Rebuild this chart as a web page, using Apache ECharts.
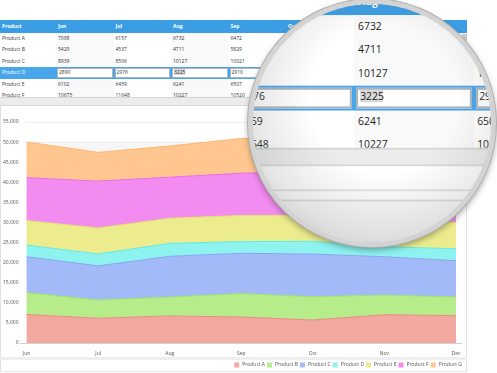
<!DOCTYPE html>
<html><head><meta charset="utf-8">
<script src="https://cdn.jsdelivr.net/npm/echarts@6/dist/echarts.min.js"></script>
<style>
html,body{margin:0;padding:0;background:#fff;overflow:hidden;width:497px;height:373px;font-family:"Open Sans",sans-serif;}
.abs{position:absolute;}
#chart{position:absolute;left:0;top:0;width:497px;height:373px;z-index:1;}
#tbl{position:absolute;left:0;top:0;width:497px;height:106px;z-index:2;overflow:hidden;}
#mag{position:absolute;left:248px;top:-1px;width:248px;height:248px;box-sizing:border-box;border-radius:50%;border:5px solid #d3d3d3;overflow:hidden;z-index:3;background:#fff;
 box-shadow:0 0 0 1px #b0b0b0,0 3px 6px rgba(0,0,0,0.35),inset 0 0 0 1px #9a9a9a;}
#magInner{position:absolute;left:-253px;top:-56.7px;width:497px;height:140px;transform-origin:0 0;transform:scale(2.07);}
#shade{position:absolute;left:0;top:0;width:100%;height:100%;border-radius:50%;
 background:radial-gradient(circle at 55% 40%,rgba(255,255,255,0) 0%,rgba(255,255,255,0) 38%,rgba(110,110,110,0.18) 70%,rgba(80,80,80,0.42) 100%);}
.cell{position:absolute;font-size:5px;color:#333;white-space:nowrap;}
#magInner .cell{color:#222;}
</style></head>
<body>
<div class="abs" style="left:0;top:105px;width:467px;height:253px;box-sizing:border-box;border-left:1px solid #e2e2e2;border-right:1px solid #e2e2e2;background:#fff;"></div>
<div class="abs" style="left:0;top:357px;width:467px;height:3px;background:#eeeeee;"></div>
<div class="abs" style="left:0;top:360px;width:467px;height:12px;box-sizing:border-box;border-left:1px solid #e2e2e2;border-right:1px solid #e2e2e2;border-bottom:1px solid #e6e6e6;"></div>
<div id="chart"></div>
<div id="tbl"></div>
<div id="mag"><div id="magInner"></div><div id="shade"></div></div>
<script>
// ---- data ----
const months = ['Jun','Jul','Aug','Sep','Oct','Nov','Dec'];
const products = ['Product A','Product B','Product C','Product D','Product E','Product F','Product G'];
const productA = [7098, 6157, 6732, 6472, 5720, 7040, 6800];
const productB = [5429, 4537, 4711, 5829, 5780, 4900, 4640];
const productC = [8939, 8506, 10127, 10021, 10640, 9530, 9030];
const productD = [2890, 2976, 3225, 2910, 3160, 2490, 2990];
const productE = [6102, 6459, 6241, 6507, 6460, 6140, 6560];
const productF = [10675, 11648, 10227, 10520, 10800, 11200, 10900];
const productG = [8900, 7150, 7750, 8650, 8400, 8100, 8600];
const yTickMax = 55000, yTickStep = 5000;
const seriesValues = [productA, productB, productC, productD, productE, productF, productG];
const fillColors = ['#f2a89f','#b6ec8a','#a2baf7','#8ef2ee','#ecec8e','#f28cf0','#ffc78f'];
const lineColors = ['#ec8a80','#9fe46c','#88a4f1','#62e9e4','#e3e366','#eb68e8','#ffb470'];

// ---- table (HTML grid) ----
function buildTable(root, withChartTop){
  const colX = [0]; for(let i=0;i<8;i++) colX.push(56 + 57.5*i);
  const add = (css, txt, cls) => { const d=document.createElement('div'); d.className = cls||'abs'; d.style.cssText = css; if(txt!==undefined) d.textContent = txt; root.appendChild(d); return d; };
  add('left:0;top:0;width:497px;height:20px;background:#fff;');
  add('left:0;top:20px;width:467px;height:13px;background:#3b9de3;');
  add('left:2px;top:20px;line-height:13px;color:#fff;font-weight:bold;','Product','cell');
  months.forEach((m,i)=>add('left:'+(colX[i+1]+2)+'px;top:20px;line-height:13px;color:#fff;font-weight:bold;',m,'cell'));
  const body = add('left:0;top:33px;width:467px;height:64px;overflow:hidden;background:#fff;');
  const addB = (css, txt, cls) => { const d=document.createElement('div'); d.className = cls||'abs'; d.style.cssText = css; if(txt!==undefined) d.textContent = txt; body.appendChild(d); return d; };
  for(let c=1;c<=7;c+=2) addB('left:'+colX[c]+'px;top:0;width:57.5px;height:80px;background:#f9f9f9;');
  const rh = 11.4;
  products.forEach((p,r)=>{
    const top = r*rh;
    if(r===3){
      addB('left:0;top:'+top+'px;width:462px;height:'+rh+'px;background:#4aa6ea;');
      addB('left:2px;top:'+top+'px;line-height:'+rh+'px;color:#fff;',p,'cell');
      seriesValues[r].forEach((v,i)=>{
        addB('left:'+(colX[i+1]+1)+'px;top:'+(top+1)+'px;width:55.5px;height:'+(rh-2)+'px;box-sizing:border-box;border:0.5px solid #aab6bf;background:#fff;');
        const t = addB('left:'+(colX[i+1]+3)+'px;top:'+top+'px;line-height:'+rh+'px;','','cell');
        const s = document.createElement('span'); s.textContent = v; if(i===2){s.style.background='#d9d9d9';} t.appendChild(s);
      });
    } else {
      addB('left:2px;top:'+top+'px;line-height:'+rh+'px;',p,'cell');
      seriesValues[r].forEach((v,i)=>addB('left:'+(colX[i+1]+2)+'px;top:'+top+'px;line-height:'+rh+'px;',String(v),'cell'));
    }
  });
  add('left:462px;top:33px;width:5px;height:64px;background:#f1f1f1;border-left:0.5px solid #dcdcdc;box-sizing:border-box;');
  add('left:462.5px;top:34px;width:4px;height:22px;background:#c9c9c9;');
  add('left:0;top:97px;width:467px;height:0.6px;background:#d6d6d6;');
  add('left:0;top:98px;width:467px;height:7px;background:#ececec;');
  add('left:0;top:105px;width:467px;height:0.6px;background:#d9d9d9;');
  if(withChartTop){
    add('left:0;top:105.6px;width:467px;height:40px;background:#fff;');
    add('left:0;top:116.8px;width:467px;height:0.5px;background:#e4e4e4;');
    add('left:0;top:122px;width:467px;height:0.5px;background:#dcdcdc;');
    add('left:0;top:122.5px;width:467px;height:20px;background:#fafafa;');
  }
}
buildTable(document.getElementById('tbl'), false);
buildTable(document.getElementById('magInner'), true);

// ---- chart ----
const chart = echarts.init(document.getElementById('chart'), null, {renderer:'canvas'});
chart.setOption({
  backgroundColor:'transparent',
  animation:false,
  textStyle:{fontFamily:'"Open Sans", sans-serif'},
  grid:{left:25,right:41,top:122,bottom:30},
  legend:{
    data:products, right:35, top:362.5, padding:0, icon:'rect', itemWidth:5, itemHeight:5, itemGap:2,
    textStyle:{fontSize:5,color:'#555',padding:[0,0,0,-2]}
  },
  xAxis:{
    type:'category', data:months, boundaryGap:false,
    axisLine:{lineStyle:{color:'#cfcfcf'}}, axisTick:{show:false},
    axisLabel:{fontSize:5,color:'#555',margin:8}
  },
  yAxis:{
    type:'value', min:0, max:yTickMax, interval:yTickStep,
    axisLine:{show:false}, axisTick:{show:false},
    axisLabel:{fontSize:5,color:'#555',margin:8},
    splitLine:{lineStyle:{color:'#ececec'}},
    splitArea:{show:true, areaStyle:{color:['#ffffff','#f6f6f6']}}
  },
  graphic:[{type:'line', shape:{x1:20,y1:343.5,x2:462,y2:343.5}, style:{stroke:'#cfcfcf',lineWidth:1}, z:0}],
  series: products.map((p,i)=>({
    name:p, type:'line', stack:'total', data:seriesValues[i],
    showSymbol:false, symbol:'none',
    itemStyle:{color:fillColors[i]},
    lineStyle:{color:lineColors[i], width:1},
    areaStyle:{color:fillColors[i], opacity:1}
  }))
});
</script>
</body></html>
